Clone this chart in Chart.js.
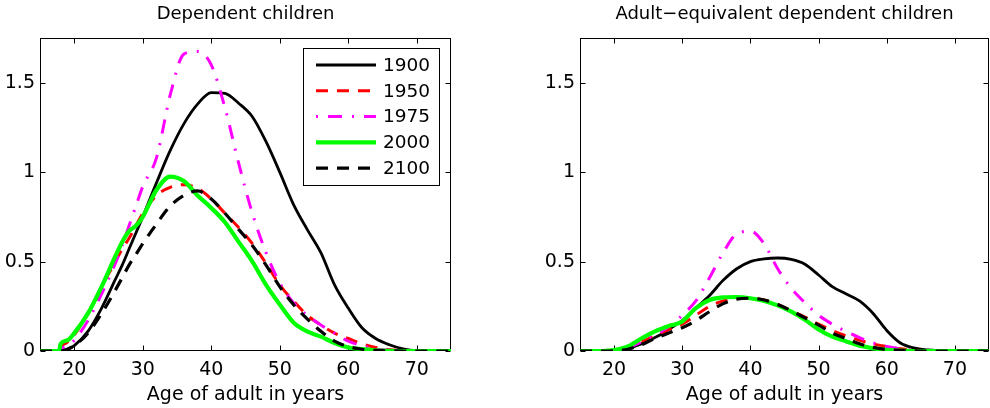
<!DOCTYPE html>
<html>
<head>
<meta charset="utf-8">
<script src="https://cdn.jsdelivr.net/npm/chart.js@4/dist/chart.umd.min.js"></script>
<style>
  body { margin: 0; background: #fff; }
  .panel { position: absolute; top: 0; width: 495px; height: 408px; }
</style>
</head>
<body>
<div class="panel" style="left:0"><canvas id="children" width="495" height="408"></canvas></div>
<div class="panel" style="left:495px"><canvas id="adultEq" width="495" height="408"></canvas></div>
<script>
(function () {
  // ages at which the profiles are sampled
  const ages = [15, 17.8, 18, 19, 20, 22, 24, 26, 27, 28, 29, 30, 32, 34, 36, 38, 40,
                42, 44, 46, 48, 50, 52, 54, 56, 58, 60, 62, 64, 66, 68, 70, 75];

  const years = ["1900", "1950", "1975", "2000", "2100"];

  // dependent children per adult
  const kids1900 = [0, 0, 0, 0.01, 0.03, 0.11, 0.24, 0.4, 0.48, 0.57, 0.66, 0.75, 0.94, 1.12, 1.27, 1.38, 1.445,
                    1.44, 1.385, 1.31, 1.17, 1.0, 0.82, 0.68, 0.55, 0.37, 0.24, 0.13, 0.07, 0.035, 0.012, 0.002, 0];
  const kids1950 = [0, 0, 0.02, 0.05, 0.09, 0.21, 0.36, 0.5, 0.57, 0.63, 0.7, 0.77, 0.87, 0.915, 0.93, 0.91, 0.85,
                    0.77, 0.69, 0.6, 0.49, 0.37, 0.28, 0.2, 0.145, 0.1, 0.07, 0.04, 0.02, 0.007, 0.002, 0, 0];
  const kids1975 = [0, 0, 0.01, 0.03, 0.06, 0.17, 0.32, 0.49, 0.59, 0.7, 0.81, 0.92, 1.08, 1.43, 1.66, 1.675, 1.6,
                    1.36, 1.05, 0.77, 0.55, 0.38, 0.27, 0.2, 0.145, 0.1, 0.055, 0.03, 0.012, 0.004, 0.001, 0, 0];
  const kids2000 = [0, 0, 0.04, 0.06, 0.1, 0.21, 0.36, 0.53, 0.61, 0.67, 0.7, 0.75, 0.9, 0.975, 0.95, 0.87, 0.8,
                    0.72, 0.61, 0.5, 0.37, 0.26, 0.16, 0.11, 0.08, 0.045, 0.02, 0.01, 0.004, 0.001, 0, 0, 0];
  const kids2100 = [0, 0, 0, 0.01, 0.03, 0.1, 0.21, 0.34, 0.41, 0.48, 0.54, 0.6, 0.71, 0.81, 0.87, 0.895, 0.85,
                    0.77, 0.68, 0.59, 0.48, 0.36, 0.26, 0.18, 0.11, 0.055, 0.025, 0.01, 0.003, 0.001, 0, 0, 0];

  // same, weighted as adult equivalents
  const eq1900 = [0, 0, 0, 0, 0.002, 0.015, 0.04, 0.075, 0.095, 0.12, 0.145, 0.17, 0.24, 0.31, 0.395, 0.46, 0.5,
                  0.515, 0.52, 0.512, 0.485, 0.425, 0.36, 0.32, 0.28, 0.21, 0.115, 0.045, 0.017, 0.006, 0.002, 0, 0];
  const eq1950 = [0, 0, 0, 0.001, 0.003, 0.02, 0.05, 0.085, 0.1, 0.12, 0.135, 0.15, 0.2, 0.25, 0.28, 0.295, 0.295,
                  0.285, 0.26, 0.225, 0.19, 0.15, 0.115, 0.085, 0.06, 0.04, 0.025, 0.012, 0.005, 0.001, 0, 0, 0];
  const eq1975 = [0, 0, 0, 0.001, 0.003, 0.02, 0.05, 0.09, 0.11, 0.135, 0.165, 0.2, 0.28, 0.41, 0.55, 0.655, 0.67,
                  0.6, 0.46, 0.35, 0.27, 0.2, 0.15, 0.11, 0.075, 0.045, 0.025, 0.012, 0.005, 0.002, 0, 0, 0];
  const eq2000 = [0, 0, 0, 0.002, 0.005, 0.025, 0.07, 0.11, 0.125, 0.14, 0.15, 0.165, 0.24, 0.285, 0.3, 0.302, 0.295,
                  0.28, 0.255, 0.22, 0.175, 0.12, 0.08, 0.055, 0.03, 0.015, 0.006, 0.002, 0, 0, 0, 0, 0];
  const eq2100 = [0, 0, 0, 0, 0.002, 0.01, 0.035, 0.07, 0.085, 0.1, 0.115, 0.13, 0.17, 0.22, 0.265, 0.29, 0.295,
                  0.285, 0.26, 0.225, 0.185, 0.145, 0.1, 0.07, 0.04, 0.02, 0.008, 0.003, 0.001, 0, 0, 0, 0];

  const xTicks = [20, 30, 40, 50, 60, 70];
  const yTicks = [0, 0.5, 1, 1.5];

  const FONT = "'DejaVu Sans', sans-serif";

  const lineStyles = [
    { color: "#000000", width: 2.8, dash: [] },
    { color: "#ff0000", width: 3, dash: [12, 9] },
    { color: "#ff00ff", width: 3, dash: [2, 10, 14, 10] },
    { color: "#00ff00", width: 4.2, dash: [] },
    { color: "#000000", width: 3.2, dash: [12, 9] }
  ];

  // axes box with inward ticks on all four sides
  const boxFrame = {
    id: "boxFrame",
    beforeDatasetsDraw(chart) {
      const { ctx, chartArea: a, scales: { x, y } } = chart;
      const L = Math.round(a.left) + 0.5, R = Math.round(a.right) - 0.5;
      const T = Math.round(a.top) + 0.5, B = Math.round(a.bottom) - 0.5;
      ctx.save();
      ctx.strokeStyle = "#000";
      ctx.lineWidth = 1;
      ctx.strokeRect(L, T, R - L, B - T);
      ctx.beginPath();
      x.ticks.forEach(t => {
        const px = Math.round(x.getPixelForValue(t.value)) + 0.5;
        ctx.moveTo(px, B); ctx.lineTo(px, B - 5);
        ctx.moveTo(px, T); ctx.lineTo(px, T + 5);
      });
      y.ticks.forEach(t => {
        const py = Math.round(y.getPixelForValue(t.value)) + 0.5;
        ctx.moveTo(L, py); ctx.lineTo(L + 5, py);
        ctx.moveTo(R, py); ctx.lineTo(R - 5, py);
      });
      ctx.stroke();
      ctx.restore();
    }
  };

  // boxed legend in the upper right corner of the plot
  const boxLegend = {
    id: "boxLegend",
    afterDatasetsDraw(chart, args, opts) {
      if (!opts.show) return;
      const { ctx, chartArea: a } = chart;
      const w = 136, h = 137, rowH = 25.8;
      const left = Math.round(a.right - 12 - w), top = Math.round(a.top + 10);
      ctx.save();
      ctx.fillStyle = "#fff";
      ctx.fillRect(left, top, w, h);
      ctx.strokeStyle = "#000";
      ctx.lineWidth = 1;
      ctx.strokeRect(left + 0.5, top + 0.5, w, h);
      ctx.font = "18.5px " + FONT;
      ctx.textBaseline = "middle";
      chart.data.datasets.forEach((ds, i) => {
        const cy = top + 17 + i * rowH;
        ctx.setLineDash(ds.borderDash);
        ctx.strokeStyle = ds.borderColor;
        ctx.lineWidth = ds.borderWidth;
        ctx.beginPath();
        ctx.moveTo(left + 13, cy);
        ctx.lineTo(left + 73, cy);
        ctx.stroke();
        ctx.setLineDash([]);
        ctx.fillStyle = "#000";
        ctx.fillText(ds.label, left + 80, cy + 1);
      });
      ctx.restore();
    }
  };

  function makeChart(id, title, series, yAxisWidth, padRight, legend) {
    const datasets = series.map((vals, i) => ({
      label: years[i],
      data: ages.map((a, k) => ({ x: a, y: vals[k] })),
      borderColor: lineStyles[i].color,
      borderWidth: lineStyles[i].width,
      borderDash: lineStyles[i].dash,
      pointRadius: 0,
      fill: false,
      cubicInterpolationMode: "monotone",
      order: series.length - 1 - i
    }));

    return new Chart(document.getElementById(id), {
      type: "line",
      data: { datasets: datasets },
      plugins: [boxFrame, boxLegend],
      options: {
        responsive: false,
        animation: false,
        devicePixelRatio: 1,
        layout: { padding: { left: 0, right: padRight, top: 0, bottom: 0 } },
        scales: {
          x: {
            type: "linear",
            min: 15,
            max: 75,
            afterBuildTicks: s => { s.ticks = xTicks.map(v => ({ value: v })); },
            afterFit: s => { s.height = 57; },
            grid: { display: false, drawTicks: false },
            border: { display: false },
            ticks: {
              color: "#000",
              padding: 8,
              maxRotation: 0,
              autoSkip: false,
              font: { family: FONT, size: 19 }
            },
            title: {
              display: true,
              text: "Age of adult in years",
              color: "#000",
              font: { family: FONT, size: 19 },
              padding: { top: 0, bottom: 1.5 }
            }
          },
          y: {
            type: "linear",
            min: 0,
            max: 1.75,
            afterBuildTicks: s => { s.ticks = yTicks.map(v => ({ value: v })); },
            afterFit: s => { s.width = yAxisWidth; },
            grid: { display: false, drawTicks: false },
            border: { display: false },
            ticks: {
              color: "#000",
              padding: 5,
              autoSkip: false,
              font: { family: FONT, size: 19 },
              callback: v => String(v)
            }
          }
        },
        plugins: {
          legend: { display: false },
          tooltip: { enabled: false },
          boxLegend: { show: legend },
          title: {
            display: true,
            text: title,
            color: "#000",
            fullSize: false,
            font: { family: FONT, size: 18, weight: "normal" },
            padding: { top: 3.5, bottom: 12.9 }
          }
        }
      }
    });
  }

  makeChart("children", "Dependent children",
            [kids1900, kids1950, kids1975, kids2000, kids2100], 40, 44, true);
  makeChart("adultEq", "Adult\u2212equivalent dependent children",
            [eq1900, eq1950, eq1975, eq2000, eq2100], 85, 1, false);
})();
</script>
</body>
</html>
